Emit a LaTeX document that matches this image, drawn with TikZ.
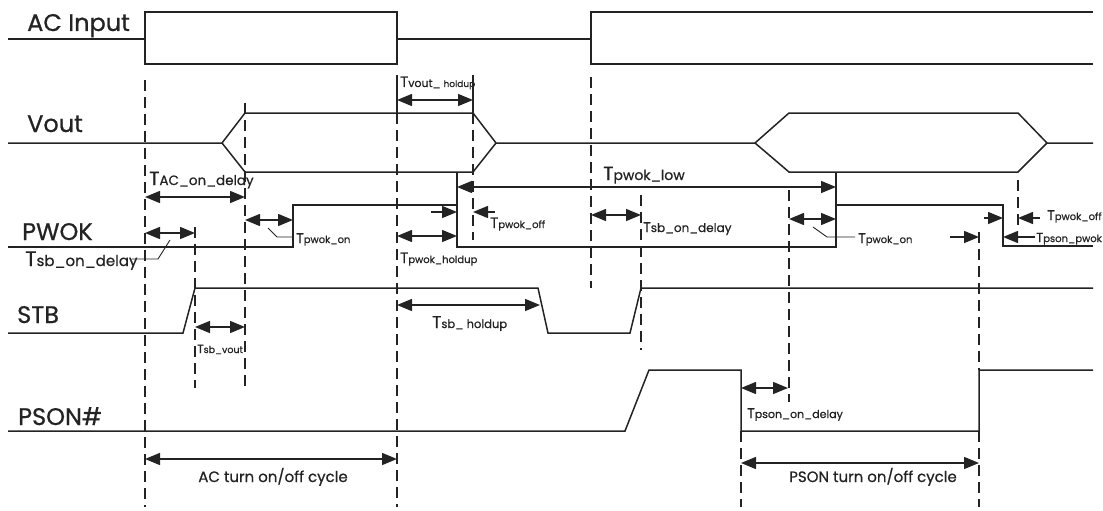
\documentclass[tikz,border=0pt]{standalone}
\usepackage{fontspec}
\setmainfont{Poppins}[BoldFont=Poppins,BoldFeatures={FakeBold=0.7}]
\usetikzlibrary{arrows.meta}
\definecolor{ink}{RGB}{35,35,35}
\newcommand\tlab[3]{{\fontsize{#1}{#1}\selectfont T}{\fontsize{#2}{#2}\selectfont #3}}
\begin{document}
\begin{tikzpicture}[x=1pt,y=-1pt,
  sig/.style={draw=ink,line width=1.5pt,line join=miter},
  guide/.style={draw=ink,line width=1.3pt,dash pattern=on 11pt off 6pt},
  solidguide/.style={draw=ink,line width=1.3pt},
  tip/.tip={Triangle[length=15pt,width=12pt]},
  dim/.style={draw=ink,line width=1.5pt,tip-tip},
  one/.style={draw=ink,line width=1.5pt,-tip},
  lead/.style={draw=ink,line width=0.9pt},
  sname/.style={anchor=base west,inner sep=0pt,font=\bfseries\fontsize{24}{24}\selectfont,text=ink},
  tl/.style={anchor=base west,inner sep=0pt,text=ink,font=\bfseries},
]
\useasboundingbox (0,0) rectangle (1103,511);

% ---- signal names
\node[sname] (lac) at (27,31) {AC Input};
\node[sname] (lvout) at (27,132) {Vout};
\node[sname] (lpwok) at (22,240) {PWOK};
\node[sname] (lstb) at (17,323) {STB};
\node[sname] (lpson) at (18,425) {PSON\#};

% ---- AC Input
\draw[sig] (8,39) -- (145,39);
\draw[sig] (145,12) rectangle (397,64);
\draw[sig] (397,39) -- (591,39);
\draw[sig] (1093,12) -- (591,12) -- (591,64) -- (1093,64);

% ---- Vout
\draw[sig] (8,143) -- (222,143) -- (245,113) -- (473,113) -- (496,143) -- (755,143) -- (789,113) -- (1018,113) -- (1047,143) -- (1093,143);
\draw[sig] (222,143) -- (245,172) -- (473,172) -- (496,143);
\draw[sig] (755,143) -- (789,172) -- (1018,172) -- (1047,143);

% ---- PWOK
\draw[sig] (8,247) -- (293,247) -- (293,205) -- (457,205);
\draw[sig] (457,173) -- (457,247) -- (836,247) -- (836,172);
\draw[sig] (836,205) -- (1003,205) -- (1003,246) -- (1093,246);

% ---- STB
\draw[sig] (8,333) -- (183,333) -- (195,288) -- (538,288) -- (548,333) -- (630,333) -- (641,288) -- (1093,288);

% ---- PSON#
\draw[sig] (8,431) -- (625,431) -- (649,370) -- (741,370) -- (741,431) -- (979,431) -- (979,370) -- (1093,370);

% ---- guides
\draw[guide] (145,80) -- (145,507);
\draw[guide] (245,103) -- (245,388);
\draw[solidguide] (397,75) -- (397,113);
\draw[guide] (397,113) -- (397,507);
\draw[solidguide] (473,75) -- (473,113);
\draw[guide] (473,113) -- (473,240);
\draw[guide] (591,77) -- (591,288);
\draw[guide] (641,195) -- (641,350);
\draw[guide] (195,227) -- (195,388);
\draw[guide] (789,190) -- (789,402);
\draw[guide] (1018,180) -- (1018,230);
\draw[guide] (979,232) -- (979,370);
\draw[guide] (979,431) -- (979,507);
\draw[guide] (741,431) -- (741,507);

% ---- timing arrows
\draw[dim] (397,100) -- (473,100);
\draw[dim] (145,197) -- (245,197);
\draw[dim] (457,187) -- (836,187);
\draw[dim] (145,233) -- (195,233);
\draw[dim] (245,220) -- (293,220);
\draw[one] (431,212) -- (457,212);
\draw[one] (495,212) -- (473,212);
\draw[dim] (397,236) -- (457,236);
\draw[dim] (591,215) -- (641,215);
\draw[dim] (397,305) -- (540,305);
\draw[dim] (195,327) -- (245,327);
\draw[dim] (789,219) -- (836,219);
\draw[one] (984,218) -- (1003,218);
\draw[one] (1040,218) -- (1018,218);
\draw[one] (950,237) -- (979,237);
\draw[one] (1035,237) -- (1003,237);
\draw[dim] (741,388) -- (788,388);
\draw[dim] (145,459) -- (397,459);
\draw[dim] (741,463) -- (979,463);

% ---- leaders
\draw[lead] (170,240) -- (158,259) -- (132,259);
\draw[lead] (268,228) -- (277,237) -- (293,237);
\draw[lead] (813,227) -- (827,237) -- (855,237);

% ---- labels
\node[tl] (tvh) at (400,87) {\tlab{15}{11}{vout\_\ \fontsize{9}{9}\selectfont holdup}};
\node[tl] (tacd) at (149,185) {\tlab{19}{13.5}{AC\_on\_delay}};
\node[tl] (tlow) at (603,180) {\tlab{19}{14}{pwok\_low}};
\node[tl] (tsbl) at (25,266) {\tlab{21}{15}{sb\_on\_delay}};
\node[tl] (tpwonl) at (296,243) {\tlab{14}{10}{pwok\_on}};
\node[tl] (tpwoffm) at (490,228) {\tlab{15}{10}{pwok\_off}};
\node[tl] (tpwh) at (400,263) {\tlab{15}{10}{pwok\_holdup}};
\node[tl] (tsbm) at (643,232) {\tlab{14}{12}{sb\_on\_delay}};
\node[tl] (tsbh) at (432,328) {\tlab{17}{11.5}{sb\_ holdup}};
\node[tl] (tsbv) at (197,353) {\tlab{12}{9.5}{sb\_vout}};
\node[tl] (tpwonr) at (858,243) {\tlab{14}{10}{pwok\_on}};
\node[tl] (tpwoffr) at (1047,220) {\tlab{14}{10}{pwok\_off}};
\node[tl] (tpp) at (1036,242) {\tlab{13}{10}{pson\_pwok}};
\node[tl] (tpsd) at (747,418) {\tlab{14}{11}{pson\_on\_delay}};
\node[tl,anchor=base] (acc) at (273,482) {\fontsize{15}{15}\selectfont AC turn on/off cycle};
\node[tl,anchor=base] (psc) at (873,482) {\fontsize{15}{15}\selectfont PSON turn on/off cycle};
\end{tikzpicture}
\end{document}
